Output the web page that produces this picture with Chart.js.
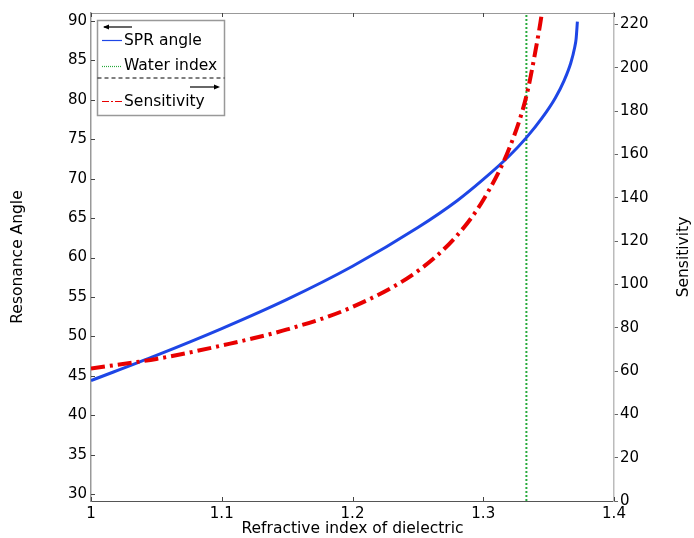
<!DOCTYPE html>
<html><head><meta charset="utf-8">
<script src="https://cdn.jsdelivr.net/npm/chart.js@4/dist/chart.umd.min.js"></script>
<style>html,body{margin:0;padding:0;background:#fff;}#wrap{width:694px;height:538px;}</style>
</head><body><div id="wrap"><canvas id="c" width="694" height="538"></canvas></div>
<script>
// ---- data ----
const sprIndex = [1.00, 1.05, 1.10, 1.15, 1.20, 1.25, 1.28, 1.30, 1.32, 1.333, 1.345, 1.355, 1.362, 1.367, 1.370, 1.371, 1.372];
const sprAngle = [44.4, 47.6, 51.0, 54.7, 58.9, 63.8, 67.2, 69.9, 72.9, 75.2, 77.7, 80.2, 82.5, 84.7, 86.7, 87.7, 89.9];
const sensIndex = [1.00, 1.05, 1.10, 1.15, 1.20, 1.25, 1.28, 1.30, 1.32, 1.333, 1.34, 1.345, 1.35];
const sensitivity = [61.2, 65.6, 71.8, 79.2, 89.6, 106.2, 122.6, 139.0, 163.0, 187.0, 208.0, 226.0, 250.0];
const waterIndex = 1.333;
const xTicks = [1, 1.1, 1.2, 1.3, 1.4];
const leftTicks = [30, 35, 40, 45, 50, 55, 60, 65, 70, 75, 80, 85, 90];
const rightTicks = [0, 20, 40, 60, 80, 100, 120, 140, 160, 180, 200, 220];
const xRange = [1, 1.4];
const leftRange = [29.14, 91.0];
const rightRange = [0, 225.3];
const labels = {x: 'Refractive index of dielectric', left: 'Resonance Angle', right: 'Sensitivity'};
const legendNames = ['SPR angle', 'Water index', 'Sensitivity'];

const FONT = 'DejaVu Sans';
const BLUE = 'rgb(30,70,230)';
const RED = 'rgb(232,0,0)';
const GREEN = 'rgb(40,170,60)';

const zip = (xs, ys) => xs.map((x, i) => ({x, y: ys[i]}));
const fmt = v => String(+(+v).toFixed(2));

const decor = {
  id: 'decor',
  afterDatasetsDraw(chart) {
    const ctx = chart.ctx, a = chart.chartArea;
    const sx = chart.scales.x, sy = chart.scales.y;
    ctx.save();
    // top border
    ctx.strokeStyle = '#999'; ctx.lineWidth = 1;
    ctx.beginPath(); ctx.moveTo(a.left, a.top + 0.5); ctx.lineTo(a.right, a.top + 0.5); ctx.stroke();
    // inward ticks
    ctx.strokeStyle = '#444';
    ctx.beginPath();
    xTicks.forEach(v => {
      const px = Math.round(sx.getPixelForValue(v)) + 0.5;
      ctx.moveTo(px, a.bottom); ctx.lineTo(px, a.bottom - 4);
      ctx.moveTo(px, a.top); ctx.lineTo(px, a.top + 4);
    });
    leftTicks.forEach(v => {
      const py = Math.round(sy.getPixelForValue(v)) + 0.5;
      ctx.moveTo(a.left, py); ctx.lineTo(a.left + 4, py);
    });
    ctx.stroke();
    // right title reading bottom-to-top
    ctx.fillStyle = '#000';
    ctx.font = '15.5px "' + FONT + '"';
    ctx.textAlign = 'center'; ctx.textBaseline = 'middle';
    ctx.translate(684, (a.top + a.bottom) / 2);
    ctx.rotate(-Math.PI / 2);
    ctx.fillText(labels.right, 0, 0);
    ctx.restore();

    // legend
    ctx.save();
    const L = 97.5, T = 20.5, R = 224.5, B = 115.5;
    ctx.fillStyle = '#fff';
    ctx.fillRect(L, T, R - L, B - T);
    ctx.strokeStyle = '#999'; ctx.lineWidth = 1.5;
    ctx.strokeRect(L, T, R - L, B - T);
    ctx.strokeStyle = '#000'; ctx.lineWidth = 1.2;
    ctx.beginPath(); ctx.moveTo(104, 27); ctx.lineTo(132, 27); ctx.stroke();
    ctx.fillStyle = '#000';
    ctx.beginPath(); ctx.moveTo(103, 27); ctx.lineTo(109, 24.5); ctx.lineTo(109, 29.5); ctx.closePath(); ctx.fill();
    ctx.setLineDash([4, 3]); ctx.lineWidth = 1;
    ctx.beginPath(); ctx.moveTo(L, 78); ctx.lineTo(R, 78); ctx.stroke();
    ctx.setLineDash([]);
    ctx.lineWidth = 1.2;
    ctx.beginPath(); ctx.moveTo(190, 87); ctx.lineTo(218, 87); ctx.stroke();
    ctx.beginPath(); ctx.moveTo(220, 87); ctx.lineTo(214, 84.5); ctx.lineTo(214, 89.5); ctx.closePath(); ctx.fill();
    ctx.lineWidth = 1.2;
    ctx.strokeStyle = BLUE;
    ctx.beginPath(); ctx.moveTo(102, 40.5); ctx.lineTo(122, 40.5); ctx.stroke();
    ctx.strokeStyle = GREEN; ctx.setLineDash([1, 1]);
    ctx.beginPath(); ctx.moveTo(102, 66.5); ctx.lineTo(122, 66.5); ctx.stroke();
    ctx.strokeStyle = RED; ctx.setLineDash([7, 2, 2, 2]);
    ctx.beginPath(); ctx.moveTo(102, 101.5); ctx.lineTo(122, 101.5); ctx.stroke();
    ctx.setLineDash([]);
    ctx.fillStyle = '#000';
    ctx.font = '15.5px "' + FONT + '"';
    ctx.textAlign = 'left'; ctx.textBaseline = 'middle';
    ctx.fillText(legendNames[0], 124, 41);
    ctx.fillText(legendNames[1], 124, 66);
    ctx.fillText(legendNames[2], 124, 102);
    ctx.restore();
  }
};

const tickFont = {family: FONT, size: 15};
const titleFont = {family: FONT, size: 15.5};

new Chart(document.getElementById('c'), {
  type: 'line',
  data: {
    datasets: [
      {label: legendNames[0], data: zip(sprIndex, sprAngle), yAxisID: 'y', borderColor: BLUE, borderWidth: 3,
       pointRadius: 0, cubicInterpolationMode: 'monotone', fill: false, order: 2, clip: 0},
      {label: legendNames[1], data: [{x: waterIndex, y: leftRange[0]}, {x: waterIndex, y: leftRange[1]}], yAxisID: 'y',
       borderColor: GREEN, borderWidth: 2, borderDash: [2, 2], pointRadius: 0, fill: false, order: 3, clip: 0},
      {label: legendNames[2], data: zip(sensIndex, sensitivity), yAxisID: 'y2', borderColor: RED, borderWidth: 4,
       borderDash: [14, 5, 3, 5], pointRadius: 0, cubicInterpolationMode: 'monotone', fill: false, order: 1, clip: 0}
    ]
  },
  options: {
    responsive: false, devicePixelRatio: 1, animation: false,
    layout: {padding: {top: 11, left: 0, right: 0, bottom: 0}},
    plugins: {legend: {display: false}, tooltip: {enabled: false}},
    scales: {
      x: {
        type: 'linear', min: xRange[0], max: xRange[1],
        afterBuildTicks: s => { s.ticks = xTicks.map(v => ({value: v})); },
        afterFit: s => { s.height = 37; },
        ticks: {font: tickFont, color: '#000', padding: 4, maxRotation: 0, callback: v => fmt(v)},
        grid: {drawOnChartArea: false, drawTicks: false},
        border: {color: '#555', width: 1},
        title: {display: true, text: labels.x, font: titleFont, color: '#000', padding: {top: 0, bottom: 0}}
      },
      y: {
        type: 'linear', position: 'left', min: leftRange[0], max: leftRange[1],
        afterBuildTicks: s => { s.ticks = leftTicks.map(v => ({value: v})); },
        afterFit: s => { s.width = 91; },
        ticks: {font: tickFont, color: '#000', padding: 4, callback: v => fmt(v)},
        grid: {drawOnChartArea: false, drawTicks: false},
        border: {color: '#999', width: 1.5},
        title: {display: true, text: labels.left, font: titleFont, color: '#000', padding: {top: 9, bottom: 0}}
      },
      y2: {
        type: 'linear', position: 'right', min: rightRange[0], max: rightRange[1],
        afterBuildTicks: s => { s.ticks = rightTicks.map(v => ({value: v})); },
        afterFit: s => { s.width = 80; },
        ticks: {font: tickFont, color: '#000', padding: 2, callback: v => fmt(v)},
        grid: {drawOnChartArea: false, drawTicks: true, tickLength: 4, color: '#666'},
        border: {color: '#bbb', width: 1.5}
      }
    }
  },
  plugins: [decor]
});
</script>
</body></html>
